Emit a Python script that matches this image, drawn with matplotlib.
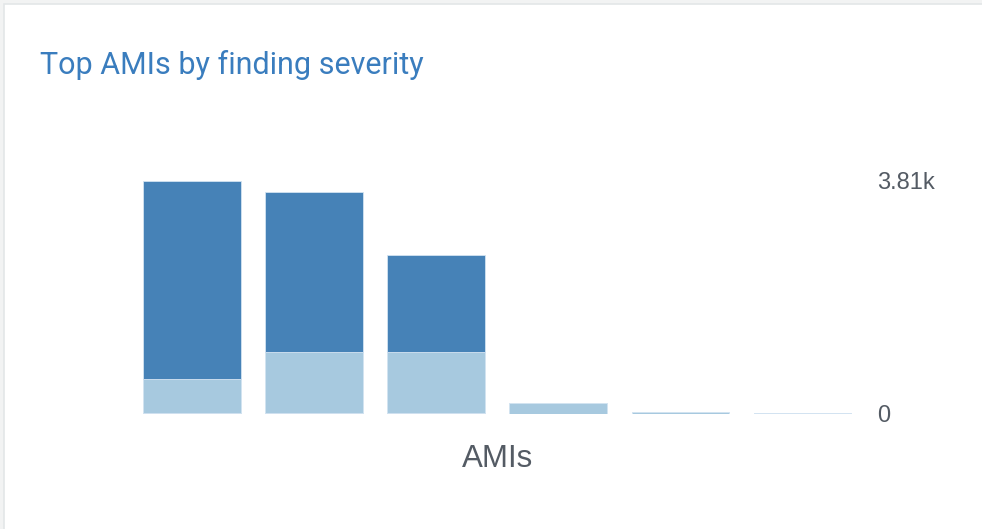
import matplotlib
matplotlib.use("Agg")
import matplotlib.pyplot as plt
from matplotlib.patches import Rectangle
import numpy as np

# ---- data ----
amis = ["AMI 1", "AMI 2", "AMI 3", "AMI 4", "AMI 5", "AMI 6"]
low = [15, 15, 15, 0, 0, 15]
medium = [550, 990, 990, 180, 25, 0]
high = [3245, 2627, 1599, 0, 0, 0]
y_ticks = [0, 3810]
y_tick_labels = ["0", "3.81k"]
title = "Top AMIs by finding severity"
x_label = "AMIs"

W, H = 982, 529
fig = plt.figure(figsize=(W / 100, H / 100), dpi=100)
fig.patch.set_facecolor("#f2f3f3")

# white panel with thin border (extends past right and bottom edges)
panel = Rectangle((4 / W, -0.1), 1.2, 1.1 - 4 / H, transform=fig.transFigure,
                  facecolor="white", edgecolor="#e3e6e8", linewidth=1.2, zorder=-5)
fig.patches.append(panel)

left, right = 131 / W, 863.5 / W
bottom, top = 1 - 413.5 / H, 1 - 181 / H
ax = fig.add_axes([left, bottom, right - left, top - bottom])
ax.set_zorder(2)
ax.set_facecolor("none")

x = np.arange(len(amis))
c_low, c_med, c_high = "#dbe9f5", "#a7c9df", "#4682b7"
edge = "#d3e3f1"
low_a = np.array(low)
med_a = np.array(medium)
high_a = np.array(high)
ax.bar(x, low_a, width=0.8, color=c_low, edgecolor=edge, linewidth=0.6)
ax.bar(x, med_a, width=0.8, bottom=low_a, color=c_med, edgecolor=edge, linewidth=0.6)
ax.bar(x, high_a, width=0.8, bottom=low_a + med_a, color=c_high, edgecolor=edge, linewidth=0.6)

ax.set_xlim(-0.5, len(amis) - 0.5)
ax.set_ylim(0, y_ticks[-1])
ax.set_xticks([])
ax.yaxis.tick_right()
ax.set_yticks(y_ticks)
ax.set_yticklabels(y_tick_labels, fontsize=17, color="#545b64", family="Liberation Sans")
ax.tick_params(axis="y", length=0, pad=10)
for s in ax.spines.values():
    s.set_visible(False)

ax.set_xlabel(x_label, fontsize=22.5, color="#545b64", family="Liberation Sans", labelpad=22)

# title, fit to reference width
t = fig.text(40 / W, 1 - 74 / H, title, fontsize=20, color="#3a7dbe",
             family="Roboto", ha="left", va="baseline", zorder=3)
fig.canvas.draw()
bb = t.get_window_extent()
t.set_fontsize(20 * 383 / bb.width)

fig.savefig("out.png", dpi=100, facecolor=fig.get_facecolor())
